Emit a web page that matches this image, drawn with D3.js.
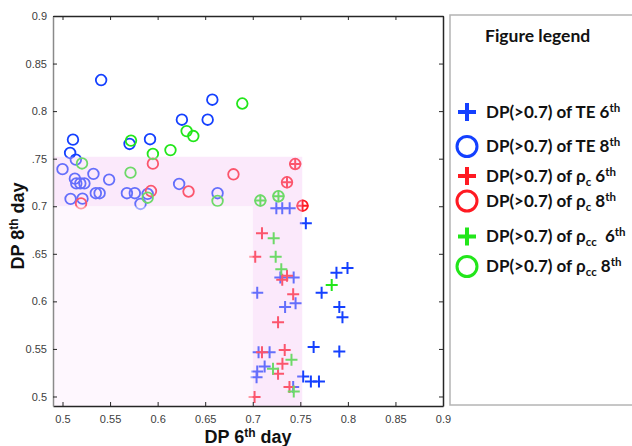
<!DOCTYPE html>
<html><head><meta charset="utf-8">
<script src="https://cdn.jsdelivr.net/npm/d3@7"></script>
<style>html,body{margin:0;padding:0;background:#fff;}svg{display:block;}</style>
</head><body>
<svg id="chart" width="632" height="446"></svg>
<script>
// ---- data ----
const xTicks = [0.5,0.55,0.6,0.65,0.7,0.75,0.8,0.85,0.9];
const xTickLabels = ["0.5","0.55","0.6","0.65","0.7","0.75","0.8","0.85","0.9"];
const yTicks = [0.5,0.55,0.6,0.65,0.7,0.75,0.8,0.85,0.9];
const yTickLabels = ["0.5","0.55","0.6",".65","0.7",".75","0.8","0.85","0.9"];

const teDay6 = [[0.7248,0.698],[0.731,0.698],[0.7388,0.698],[0.7558,0.682],[0.729,0.625],[0.743,0.625],
 [0.788,0.630],[0.7996,0.635],[0.7724,0.609],[0.7047,0.609],[0.734,0.594],[0.745,0.598],[0.791,0.594],
 [0.7943,0.5834],[0.764,0.552],[0.791,0.5473],[0.7061,0.5466],[0.7177,0.5466],[0.7125,0.5315],
 [0.7047,0.5263],[0.704,0.5203],[0.753,0.521],[0.7611,0.5158],[0.7696,0.5158],[0.7425,0.510]];
const teDay8 = [[0.511,0.770],[0.508,0.756],[0.514,0.749],[0.500,0.739],[0.513,0.729],[0.5145,0.724],
 [0.5187,0.724],[0.523,0.724],[0.5325,0.734],[0.549,0.728],[0.5085,0.7077],[0.521,0.708],[0.535,0.7137],
 [0.539,0.7137],[0.5705,0.7655],[0.592,0.7705],[0.5406,0.8327],[0.6255,0.791],[0.6526,0.791],
 [0.6575,0.812],[0.5677,0.7137],[0.576,0.7137],[0.582,0.7024],[0.5895,0.713],[0.6226,0.7234],[0.663,0.7137]];
const rcDay6 = [[0.7446,0.7444],[0.736,0.7252],[0.7523,0.7006],[0.7097,0.6716],[0.7026,0.647],[0.736,0.6268],
 [0.731,0.6226],[0.7425,0.6076],[0.7266,0.578],[0.7097,0.5466],[0.7336,0.549],[0.7312,0.5343],
 [0.7266,0.5238],[0.7386,0.510],[0.7019,0.4994]];
const rcDay8 = [[0.5195,0.703],[0.595,0.7448],[0.593,0.716],[0.6325,0.7155],[0.6797,0.7336],
 [0.7446,0.7444],[0.736,0.7252],[0.7523,0.7006]];
const rccDay6 = [[0.708,0.706],[0.727,0.7105],[0.722,0.6664],[0.7241,0.647],[0.730,0.6338],[0.783,0.6173],
 [0.7407,0.5386],[0.7213,0.5291],[0.7431,0.5053]];
const rccDay8 = [[0.5205,0.745],[0.572,0.769],[0.595,0.755],[0.6135,0.759],[0.5715,0.7353],[0.5895,0.709],
 [0.6305,0.779],[0.6375,0.7738],[0.689,0.808],[0.663,0.7056],[0.708,0.706],[0.727,0.7105]];

const bandLow = 0.7, bandHigh = 0.752;

// ---- drawing ----
const svg = d3.select("#chart");
const x = d3.scaleLinear().domain([0.49,0.9]).range([53,443]);
const y = d3.scaleLinear().domain([0.49,0.9]).range([406,16]);
const BLUE = "#1440ff", RED = "#ff1a22", GREEN = "#22e61a";

const plot = svg.append("g");

function drawCross(data, color){
  plot.append("g").selectAll("path").data(data).join("path")
    .attr("d", d => `M${x(d[0])-6},${y(d[1])}h12M${x(d[0])},${y(d[1])-6}v12`)
    .attr("stroke", color).attr("stroke-width", 2).attr("fill","none");
}
function drawCircle(data, color){
  plot.append("g").selectAll("circle").data(data).join("circle")
    .attr("cx", d => x(d[0])).attr("cy", d => y(d[1])).attr("r", 5.3)
    .attr("stroke", color).attr("stroke-width", 1.8).attr("fill","none");
}
drawCross(teDay6, BLUE);
drawCircle(teDay8, BLUE);
drawCross(rcDay6, RED);
drawCircle(rcDay8, RED);
drawCross(rccDay6, GREEN);
drawCircle(rccDay8, GREEN);

// shading overlays (on top of markers)
const x0 = x.domain()[0], y0 = y.domain()[0];
svg.append("rect").attr("x", x(x0)).attr("y", y(bandHigh))
  .attr("width", x(bandHigh)-x(x0)).attr("height", y(bandLow)-y(bandHigh))
  .attr("fill","rgb(245,195,245)").attr("opacity",0.36);
svg.append("rect").attr("x", x(bandLow)).attr("y", y(bandLow))
  .attr("width", x(bandHigh)-x(bandLow)).attr("height", y(y0)-y(bandLow))
  .attr("fill","rgb(245,195,245)").attr("opacity",0.36);
svg.append("rect").attr("x", x(x0)).attr("y", y(bandLow))
  .attr("width", x(bandLow)-x(x0)).attr("height", y(y0)-y(bandLow))
  .attr("fill","rgb(253,242,253)").attr("opacity",0.6);

// axes
const fmtX = (d,i) => xTickLabels[i];
const fmtY = (d,i) => yTickLabels[i];
const gB = svg.append("g").attr("transform","translate(0,406)")
  .call(d3.axisBottom(x).tickValues(xTicks).tickFormat(fmtX).tickSizeInner(-4).tickSizeOuter(0).tickPadding(9));
const gT = svg.append("g").attr("transform","translate(0,16)")
  .call(d3.axisTop(x).tickValues(xTicks).tickFormat("").tickSizeInner(-4).tickSizeOuter(0));
const gL = svg.append("g").attr("transform","translate(53,0)")
  .call(d3.axisLeft(y).tickValues(yTicks).tickFormat(fmtY).tickSizeInner(-4).tickSizeOuter(0).tickPadding(6));
const gR = svg.append("g").attr("transform","translate(443,0)")
  .call(d3.axisRight(y).tickValues(yTicks).tickFormat("").tickSizeInner(-4).tickSizeOuter(0));
[gB,gT,gL,gR].forEach(g => {
  g.selectAll(".domain").attr("stroke","#262626").attr("stroke-width",1.5);
  g.selectAll(".tick line").attr("stroke","#262626");
  g.selectAll("text").attr("fill","#404040").attr("font-family","Liberation Sans, Arial, sans-serif").attr("font-size",11);
});
gL.select(".domain").attr("stroke","#8a8a8a");

// axis titles
const xt = svg.append("text").attr("x",248).attr("y",443).attr("text-anchor","middle")
  .attr("font-family","Liberation Sans, Arial, sans-serif").attr("font-weight","bold").attr("font-size",18).attr("fill","#111");
xt.append("tspan").text("DP 6");
xt.append("tspan").text("th").attr("font-size",12).attr("dy",-6);
xt.append("tspan").text(" day").attr("dy",6);
const yt = svg.append("text").attr("transform","translate(24,226) rotate(-90)").attr("text-anchor","middle")
  .attr("font-family","Liberation Sans, Arial, sans-serif").attr("font-weight","bold").attr("font-size",18).attr("fill","#111");
yt.append("tspan").text("DP 8");
yt.append("tspan").text("th").attr("font-size",12).attr("dy",-6);
yt.append("tspan").text(" day").attr("dy",6);

// legend
svg.append("rect").attr("x",450).attr("y",15).attr("width",200).attr("height",390)
  .attr("fill","#fff").attr("stroke","#b4b4b4").attr("stroke-width",1.5);
const LF = "Lato, 'Open Sans', sans-serif";
svg.append("text").attr("x",485).attr("y",42).text("Figure legend")
  .attr("font-family",LF).attr("font-weight","bold").attr("font-size",17.5).attr("fill","#111");
const legendItems = [
  {shape:"cross", color:BLUE, pre:"DP(>0.7) of TE", sub:"", post:" 6", sup:"th"},
  {shape:"circle", color:BLUE, pre:"DP(>0.7) of TE", sub:"", post:" 8", sup:"th"},
  {shape:"cross", color:RED, pre:"DP(>0.7) of ρ", sub:"c", post:" 6", sup:"th"},
  {shape:"circle", color:RED, pre:"DP(>0.7) of ρ", sub:"c", post:" 8", sup:"th"},
  {shape:"cross", color:GREEN, pre:"DP(>0.7) of ρ", sub:"cc", post:"  6", sup:"th"},
  {shape:"circle", color:GREEN, pre:"DP(>0.7) of ρ", sub:"cc", post:" 8", sup:"th"}
];
const legendY = [112,146.5,176,201,236.5,266.5];
legendItems.forEach((it,i) => {
  const cy = legendY[i], cx = 467;
  if (it.shape === "cross") {
    svg.append("path").attr("d",`M${cx-9},${cy}h18M${cx},${cy-9}v18`)
      .attr("stroke",it.color).attr("stroke-width",4).attr("fill","none");
  } else {
    svg.append("circle").attr("cx",cx).attr("cy",cy).attr("r",10)
      .attr("stroke",it.color).attr("stroke-width",3).attr("fill","none");
  }
  const t = svg.append("text").attr("x",486).attr("y",cy+5.5)
    .attr("font-family",LF).attr("font-weight","bold").attr("font-size",17).attr("fill","#111")
    .attr("xml:space","preserve");
  t.append("tspan").text(it.pre);
  let dy = 0;
  if (it.sub) { t.append("tspan").text(it.sub).attr("font-size",11.5).attr("dy",4); dy = 4; }
  t.append("tspan").text(it.post).attr("dy",-dy);
  t.append("tspan").text(it.sup).attr("font-size",11.5).attr("dy",-6);
});
</script>
</body></html>
